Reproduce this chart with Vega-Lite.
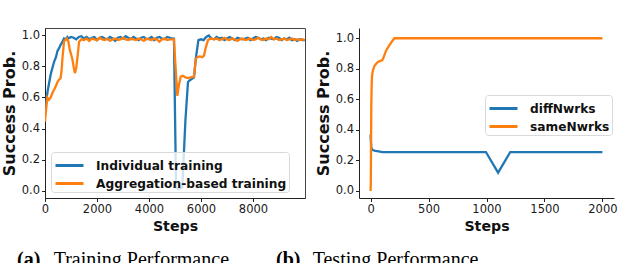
{
  "$schema": "https://vega.github.io/schema/vega-lite/v6.json",
  "padding": {"left": 0, "top": 27, "right": 0, "bottom": 0},
  "bounds": "flush",
  "spacing": 54,
  "background": "white",
  "config": {
    "view": {"stroke": null},
    "axis": {
      "labelFont": "DejaVu Sans", "labelFontSize": 11.5, "labelColor": "#1a1a1a",
      "titleFont": "DejaVu Sans", "titleFontSize": 14.2, "titleFontWeight": "bold", "titleColor": "#111",
      "tickColor": "#222", "domainColor": "#222", "tickSize": 3.5, "grid": false,
      "labelPadding": 2, "titlePadding": 4, "labelFlush": false
    },
    "axisY": {"titleFontSize": 16, "titlePadding": 4},
    "legend": {
      "title": null, "symbolType": "M-1.4,0H1.4", "symbolSize": 400, "symbolStrokeWidth": 3, "symbolOffset": 5,
      "labelFont": "DejaVu Sans", "labelFontSize": 12.2, "labelFontWeight": "bold", "labelColor": "#111", "labelLimit": 0,
      "padding": 2, "rowPadding": -2, "labelOffset": 15,
      "strokeColor": "#d9d9d9", "fillColor": "rgba(255,255,255,0.8)", "cornerRadius": 3
    },
    "title": {
      "font": "Liberation Serif", "fontSize": 20, "fontWeight": "bold", "color": "#000",
      "subtitleFont": "Liberation Serif", "subtitleFontSize": 20, "subtitleColor": "#000", "subtitleFontWeight": "normal",
      "orient": "bottom", "anchor": "start", "frame": "group", "offset": 17, "subtitlePadding": -20
    }
  },
  "resolve": {"scale": {"color": "independent"}, "legend": {"color": "independent"}},
  "hconcat": [
    {
      "width": 260, "height": 170,
      "view": {"stroke": "#444", "strokeWidth": 1},
      "title": {"text": "(a)", "subtitle": "\u200b\u2003\u2002\u2004Training Performance", "dx": -28},
      "data": {"values": [
        {"s":0,"v":0.5,"k":"Individual training"},{"s":50,"v":0.58,"k":"Individual training"},{"s":100,"v":0.64,"k":"Individual training"},{"s":220,"v":0.75,"k":"Individual training"},{"s":300,"v":0.8,"k":"Individual training"},{"s":350,"v":0.83,"k":"Individual training"},{"s":420,"v":0.86,"k":"Individual training"},{"s":480,"v":0.9,"k":"Individual training"},{"s":550,"v":0.92,"k":"Individual training"},{"s":600,"v":0.94,"k":"Individual training"},{"s":660,"v":0.955,"k":"Individual training"},{"s":730,"v":0.98,"k":"Individual training"},{"s":800,"v":0.975,"k":"Individual training"},{"s":860,"v":0.99,"k":"Individual training"},{"s":900,"v":0.98,"k":"Individual training"},
        {"s":1000,"v":0.99,"k":"Individual training"},{"s":1100,"v":0.985,"k":"Individual training"},{"s":1200,"v":0.975,"k":"Individual training"},{"s":1300,"v":0.99,"k":"Individual training"},{"s":1400,"v":0.995,"k":"Individual training"},{"s":1500,"v":0.98,"k":"Individual training"},{"s":1600,"v":0.99,"k":"Individual training"},{"s":1700,"v":0.975,"k":"Individual training"},{"s":1800,"v":0.985,"k":"Individual training"},{"s":1900,"v":0.99,"k":"Individual training"},
        {"s":2000,"v":0.97,"k":"Individual training"},{"s":2100,"v":0.985,"k":"Individual training"},{"s":2200,"v":0.99,"k":"Individual training"},{"s":2300,"v":0.98,"k":"Individual training"},{"s":2400,"v":0.975,"k":"Individual training"},{"s":2500,"v":0.99,"k":"Individual training"},{"s":2600,"v":0.98,"k":"Individual training"},{"s":2700,"v":0.965,"k":"Individual training"},{"s":2800,"v":0.985,"k":"Individual training"},{"s":2900,"v":0.99,"k":"Individual training"},
        {"s":3000,"v":0.98,"k":"Individual training"},{"s":3100,"v":0.995,"k":"Individual training"},{"s":3200,"v":0.985,"k":"Individual training"},{"s":3300,"v":0.975,"k":"Individual training"},{"s":3400,"v":0.99,"k":"Individual training"},{"s":3500,"v":0.98,"k":"Individual training"},{"s":3600,"v":0.97,"k":"Individual training"},{"s":3700,"v":0.985,"k":"Individual training"},{"s":3800,"v":0.99,"k":"Individual training"},{"s":3900,"v":0.975,"k":"Individual training"},
        {"s":4000,"v":0.98,"k":"Individual training"},{"s":4100,"v":0.99,"k":"Individual training"},{"s":4200,"v":0.97,"k":"Individual training"},{"s":4300,"v":0.985,"k":"Individual training"},{"s":4400,"v":0.99,"k":"Individual training"},{"s":4500,"v":0.98,"k":"Individual training"},{"s":4600,"v":0.975,"k":"Individual training"},{"s":4700,"v":0.99,"k":"Individual training"},{"s":4800,"v":0.985,"k":"Individual training"},{"s":4900,"v":0.98,"k":"Individual training"},{"s":4960,"v":0.98,"k":"Individual training"},
        {"s":5000,"v":0.5,"k":"Individual training"},{"s":5040,"v":0.02,"k":"Individual training"},{"s":5150,"v":0.01,"k":"Individual training"},{"s":5280,"v":0.02,"k":"Individual training"},{"s":5400,"v":0.45,"k":"Individual training"},{"s":5500,"v":0.7,"k":"Individual training"},{"s":5560,"v":0.71,"k":"Individual training"},{"s":5650,"v":0.72,"k":"Individual training"},{"s":5730,"v":0.73,"k":"Individual training"},{"s":5800,"v":0.85,"k":"Individual training"},{"s":5900,"v":0.97,"k":"Individual training"},
        {"s":6000,"v":0.975,"k":"Individual training"},{"s":6100,"v":0.97,"k":"Individual training"},{"s":6200,"v":0.99,"k":"Individual training"},{"s":6300,"v":1.0,"k":"Individual training"},{"s":6400,"v":0.98,"k":"Individual training"},{"s":6500,"v":0.975,"k":"Individual training"},{"s":6600,"v":0.99,"k":"Individual training"},{"s":6700,"v":0.98,"k":"Individual training"},{"s":6800,"v":0.985,"k":"Individual training"},{"s":6900,"v":0.97,"k":"Individual training"},
        {"s":7000,"v":0.98,"k":"Individual training"},{"s":7100,"v":0.99,"k":"Individual training"},{"s":7200,"v":0.98,"k":"Individual training"},{"s":7300,"v":0.97,"k":"Individual training"},{"s":7400,"v":0.985,"k":"Individual training"},{"s":7500,"v":0.98,"k":"Individual training"},{"s":7600,"v":0.975,"k":"Individual training"},{"s":7700,"v":0.98,"k":"Individual training"},{"s":7800,"v":0.985,"k":"Individual training"},{"s":7900,"v":0.97,"k":"Individual training"},
        {"s":8000,"v":0.98,"k":"Individual training"},{"s":8100,"v":0.99,"k":"Individual training"},{"s":8200,"v":0.985,"k":"Individual training"},{"s":8300,"v":0.975,"k":"Individual training"},{"s":8400,"v":0.98,"k":"Individual training"},{"s":8500,"v":0.97,"k":"Individual training"},{"s":8600,"v":0.985,"k":"Individual training"},{"s":8700,"v":0.98,"k":"Individual training"},{"s":8800,"v":0.975,"k":"Individual training"},{"s":8900,"v":0.99,"k":"Individual training"},
        {"s":9000,"v":0.985,"k":"Individual training"},{"s":9100,"v":0.97,"k":"Individual training"},{"s":9200,"v":0.98,"k":"Individual training"},{"s":9300,"v":0.975,"k":"Individual training"},{"s":9400,"v":0.985,"k":"Individual training"},{"s":9500,"v":0.97,"k":"Individual training"},{"s":9600,"v":0.975,"k":"Individual training"},{"s":9700,"v":0.965,"k":"Individual training"},{"s":9800,"v":0.975,"k":"Individual training"},{"s":9900,"v":0.97,"k":"Individual training"},{"s":9990,"v":0.97,"k":"Individual training"},
        {"s":0,"v":0.445,"k":"Aggregation-based training"},{"s":30,"v":0.5,"k":"Aggregation-based training"},{"s":90,"v":0.6,"k":"Aggregation-based training"},{"s":150,"v":0.585,"k":"Aggregation-based training"},{"s":220,"v":0.6,"k":"Aggregation-based training"},{"s":285,"v":0.63,"k":"Aggregation-based training"},{"s":350,"v":0.65,"k":"Aggregation-based training"},{"s":410,"v":0.67,"k":"Aggregation-based training"},{"s":480,"v":0.7,"k":"Aggregation-based training"},{"s":540,"v":0.715,"k":"Aggregation-based training"},{"s":600,"v":0.725,"k":"Aggregation-based training"},{"s":640,"v":0.78,"k":"Aggregation-based training"},{"s":670,"v":0.85,"k":"Aggregation-based training"},{"s":730,"v":0.96,"k":"Aggregation-based training"},{"s":800,"v":0.975,"k":"Aggregation-based training"},{"s":840,"v":0.98,"k":"Aggregation-based training"},{"s":900,"v":0.96,"k":"Aggregation-based training"},{"s":950,"v":0.91,"k":"Aggregation-based training"},
        {"s":1000,"v":0.88,"k":"Aggregation-based training"},{"s":1050,"v":0.85,"k":"Aggregation-based training"},{"s":1110,"v":0.79,"k":"Aggregation-based training"},{"s":1150,"v":0.757,"k":"Aggregation-based training"},{"s":1200,"v":0.79,"k":"Aggregation-based training"},{"s":1250,"v":0.86,"k":"Aggregation-based training"},{"s":1310,"v":0.96,"k":"Aggregation-based training"},{"s":1400,"v":0.975,"k":"Aggregation-based training"},{"s":1500,"v":0.97,"k":"Aggregation-based training"},{"s":1600,"v":0.98,"k":"Aggregation-based training"},{"s":1700,"v":0.965,"k":"Aggregation-based training"},{"s":1800,"v":0.98,"k":"Aggregation-based training"},{"s":1900,"v":0.975,"k":"Aggregation-based training"},
        {"s":2000,"v":0.97,"k":"Aggregation-based training"},{"s":2100,"v":0.985,"k":"Aggregation-based training"},{"s":2200,"v":0.975,"k":"Aggregation-based training"},{"s":2300,"v":0.97,"k":"Aggregation-based training"},{"s":2400,"v":0.98,"k":"Aggregation-based training"},{"s":2500,"v":0.965,"k":"Aggregation-based training"},{"s":2600,"v":0.975,"k":"Aggregation-based training"},{"s":2700,"v":0.98,"k":"Aggregation-based training"},{"s":2800,"v":0.97,"k":"Aggregation-based training"},{"s":2900,"v":0.975,"k":"Aggregation-based training"},
        {"s":3000,"v":0.985,"k":"Aggregation-based training"},{"s":3100,"v":0.975,"k":"Aggregation-based training"},{"s":3200,"v":0.97,"k":"Aggregation-based training"},{"s":3300,"v":0.98,"k":"Aggregation-based training"},{"s":3400,"v":0.975,"k":"Aggregation-based training"},{"s":3500,"v":0.97,"k":"Aggregation-based training"},{"s":3600,"v":0.98,"k":"Aggregation-based training"},{"s":3700,"v":0.975,"k":"Aggregation-based training"},{"s":3800,"v":0.965,"k":"Aggregation-based training"},{"s":3900,"v":0.98,"k":"Aggregation-based training"},
        {"s":4000,"v":0.975,"k":"Aggregation-based training"},{"s":4100,"v":0.97,"k":"Aggregation-based training"},{"s":4200,"v":0.98,"k":"Aggregation-based training"},{"s":4300,"v":0.975,"k":"Aggregation-based training"},{"s":4400,"v":0.96,"k":"Aggregation-based training"},{"s":4500,"v":0.975,"k":"Aggregation-based training"},{"s":4600,"v":0.98,"k":"Aggregation-based training"},{"s":4700,"v":0.97,"k":"Aggregation-based training"},{"s":4800,"v":0.975,"k":"Aggregation-based training"},{"s":4900,"v":0.975,"k":"Aggregation-based training"},{"s":4960,"v":0.975,"k":"Aggregation-based training"},
        {"s":5020,"v":0.8,"k":"Aggregation-based training"},{"s":5090,"v":0.61,"k":"Aggregation-based training"},{"s":5150,"v":0.68,"k":"Aggregation-based training"},{"s":5220,"v":0.735,"k":"Aggregation-based training"},{"s":5300,"v":0.74,"k":"Aggregation-based training"},{"s":5400,"v":0.73,"k":"Aggregation-based training"},{"s":5500,"v":0.725,"k":"Aggregation-based training"},{"s":5600,"v":0.73,"k":"Aggregation-based training"},{"s":5730,"v":0.735,"k":"Aggregation-based training"},{"s":5770,"v":0.8,"k":"Aggregation-based training"},{"s":5800,"v":0.85,"k":"Aggregation-based training"},{"s":5860,"v":0.86,"k":"Aggregation-based training"},{"s":5950,"v":0.865,"k":"Aggregation-based training"},
        {"s":6050,"v":0.86,"k":"Aggregation-based training"},{"s":6115,"v":0.87,"k":"Aggregation-based training"},{"s":6180,"v":0.92,"k":"Aggregation-based training"},{"s":6270,"v":0.97,"k":"Aggregation-based training"},{"s":6370,"v":0.98,"k":"Aggregation-based training"},{"s":6500,"v":0.975,"k":"Aggregation-based training"},{"s":6600,"v":0.98,"k":"Aggregation-based training"},{"s":6700,"v":0.97,"k":"Aggregation-based training"},{"s":6800,"v":0.975,"k":"Aggregation-based training"},{"s":6900,"v":0.985,"k":"Aggregation-based training"},
        {"s":7000,"v":0.975,"k":"Aggregation-based training"},{"s":7100,"v":0.97,"k":"Aggregation-based training"},{"s":7200,"v":0.98,"k":"Aggregation-based training"},{"s":7300,"v":0.975,"k":"Aggregation-based training"},{"s":7400,"v":0.965,"k":"Aggregation-based training"},{"s":7500,"v":0.975,"k":"Aggregation-based training"},{"s":7600,"v":0.98,"k":"Aggregation-based training"},{"s":7700,"v":0.97,"k":"Aggregation-based training"},{"s":7800,"v":0.975,"k":"Aggregation-based training"},{"s":7900,"v":0.98,"k":"Aggregation-based training"},
        {"s":8000,"v":0.97,"k":"Aggregation-based training"},{"s":8100,"v":0.975,"k":"Aggregation-based training"},{"s":8200,"v":0.985,"k":"Aggregation-based training"},{"s":8300,"v":0.975,"k":"Aggregation-based training"},{"s":8400,"v":0.97,"k":"Aggregation-based training"},{"s":8500,"v":0.98,"k":"Aggregation-based training"},{"s":8600,"v":0.975,"k":"Aggregation-based training"},{"s":8700,"v":0.99,"k":"Aggregation-based training"},{"s":8800,"v":0.975,"k":"Aggregation-based training"},{"s":8900,"v":0.98,"k":"Aggregation-based training"},
        {"s":9000,"v":0.97,"k":"Aggregation-based training"},{"s":9100,"v":0.975,"k":"Aggregation-based training"},{"s":9200,"v":0.98,"k":"Aggregation-based training"},{"s":9300,"v":0.97,"k":"Aggregation-based training"},{"s":9400,"v":0.975,"k":"Aggregation-based training"},{"s":9500,"v":0.98,"k":"Aggregation-based training"},{"s":9600,"v":0.97,"k":"Aggregation-based training"},{"s":9700,"v":0.975,"k":"Aggregation-based training"},{"s":9800,"v":0.97,"k":"Aggregation-based training"},{"s":9900,"v":0.975,"k":"Aggregation-based training"},{"s":9990,"v":0.97,"k":"Aggregation-based training"}
      ]},
      "mark": {"type": "line", "strokeWidth": 2.3, "clip": true},
      "encoding": {
        "x": {"field": "s", "type": "quantitative", "scale": {"domain": [0, 10000], "nice": false, "zero": false},
              "axis": {"title": "Steps", "values": [0, 2000, 4000, 6000, 8000], "format": "d"}},
        "y": {"field": "v", "type": "quantitative", "scale": {"domain": [-0.048, 1.048], "nice": false, "zero": false},
              "axis": {"title": "Success Prob.", "values": [0, 0.2, 0.4, 0.6, 0.8, 1.0], "format": ".1f"}},
        "color": {"field": "k", "type": "nominal",
                  "scale": {"domain": ["Individual training", "Aggregation-based training"], "range": ["#1f77b4", "#ff7f0e"]},
                  "legend": {"orient": "none", "legendX": 6, "legendY": 124}}
      }
    },
    {
      "width": 255, "height": 170,
      "title": {"text": "(b)", "subtitle": "\u200b\u2003\u2002\u2004Testing Performance", "dx": -83},
      "data": {"values": [
        {"s":0,"v":0.37,"k":"diffNwrks"},{"s":3,"v":0.32,"k":"diffNwrks"},{"s":6,"v":0.29,"k":"diffNwrks"},{"s":10,"v":0.275,"k":"diffNwrks"},{"s":20,"v":0.268,"k":"diffNwrks"},{"s":40,"v":0.263,"k":"diffNwrks"},{"s":70,"v":0.26,"k":"diffNwrks"},{"s":100,"v":0.255,"k":"diffNwrks"},{"s":500,"v":0.255,"k":"diffNwrks"},{"s":995,"v":0.255,"k":"diffNwrks"},{"s":1100,"v":0.12,"k":"diffNwrks"},{"s":1205,"v":0.255,"k":"diffNwrks"},{"s":1500,"v":0.255,"k":"diffNwrks"},{"s":2000,"v":0.255,"k":"diffNwrks"},
        {"s":0,"v":0.0,"k":"sameNwrks"},{"s":2,"v":0.05,"k":"sameNwrks"},{"s":4,"v":0.3,"k":"sameNwrks"},{"s":6,"v":0.55,"k":"sameNwrks"},{"s":9,"v":0.68,"k":"sameNwrks"},{"s":12,"v":0.75,"k":"sameNwrks"},{"s":20,"v":0.79,"k":"sameNwrks"},{"s":34,"v":0.82,"k":"sameNwrks"},{"s":50,"v":0.835,"k":"sameNwrks"},{"s":63,"v":0.845,"k":"sameNwrks"},{"s":80,"v":0.85,"k":"sameNwrks"},{"s":100,"v":0.855,"k":"sameNwrks"},{"s":110,"v":0.87,"k":"sameNwrks"},{"s":134,"v":0.92,"k":"sameNwrks"},{"s":163,"v":0.955,"k":"sameNwrks"},{"s":190,"v":0.985,"k":"sameNwrks"},{"s":206,"v":1.0,"k":"sameNwrks"},{"s":1000,"v":1.0,"k":"sameNwrks"},{"s":2000,"v":1.0,"k":"sameNwrks"}
      ]},
      "mark": {"type": "line", "strokeWidth": 2.3},
      "encoding": {
        "x": {"field": "s", "type": "quantitative", "scale": {"domain": [-100, 2100], "nice": false, "zero": false},
              "axis": {"title": "Steps", "values": [0, 500, 1000, 1500, 2000], "format": "d"}},
        "y": {"field": "v", "type": "quantitative", "scale": {"domain": [-0.046, 1.067], "nice": false, "zero": false},
              "axis": {"title": "Success Prob.", "values": [0, 0.2, 0.4, 0.6, 0.8, 1.0], "format": ".1f"}},
        "color": {"field": "k", "type": "nominal",
                  "scale": {"domain": ["diffNwrks", "sameNwrks"], "range": ["#1f77b4", "#ff7f0e"]},
                  "legend": {"orient": "none", "legendX": 126, "legendY": 67}}
      }
    }
  ]
}
